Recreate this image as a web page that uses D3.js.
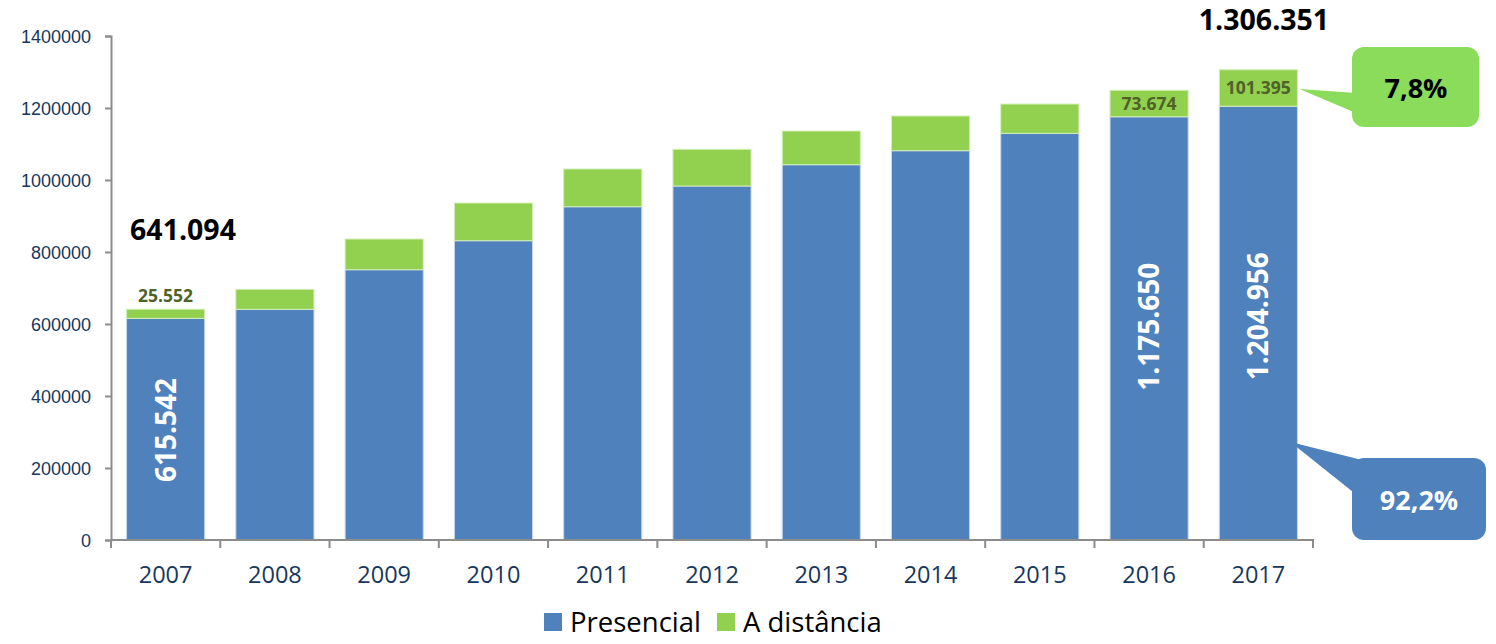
<!DOCTYPE html>
<html>
<head>
<meta charset="utf-8">
<script src="https://cdn.jsdelivr.net/npm/d3@7"></script>
<style>
  html, body { margin: 0; padding: 0; background: #fff; }
  svg { display: block; font-family: "Open Sans", Lato, sans-serif; }
</style>
</head>
<body>
<svg id="chart" width="1496" height="644"></svg>
<script>
// Matrículas por modalidade de ensino, 2007–2017
const years = ["2007","2008","2009","2010","2011","2012","2013","2014","2015","2016","2017"];
const presencial = [615542, 640800, 750800, 831400, 925800, 983300, 1042500, 1081400, 1129700, 1175650, 1204956];
const distancia  = [25552, 55600, 85300, 104700, 104800, 102000, 93600, 96400, 81400, 73674, 101395];
const yTicks = [0, 200000, 400000, 600000, 800000, 1000000, 1200000, 1400000];
const seriesNames = ["Presencial", "A distância"];
const labelledYears = ["2007", "2016", "2017"];   // bars with value labels
const totalYears = ["2007", "2017"];              // bars with total labels

const BLUE = "#4F81BD", GREEN = "#92D050", CALLOUT_GREEN = "#8ADC5A";
const AXIS_TEXT = "#17375E", AXIS_LINE = "#8C8C8C";

const ptBR = d3.formatLocale({ decimal: ",", thousands: ".", grouping: [3], currency: ["R$", ""] });
const fmtInt = ptBR.format(",d");
const fmtPct = ptBR.format(".1%");

const svg = d3.select("#chart");
const x = d3.scaleBand().domain(years).range([111, 1313]).paddingInner(0.285).paddingOuter(0.1425);
const y = d3.scaleLinear().domain([0, 1400000]).range([540, 36]);

const rows = years.map((yr, i) => ({ year: yr, p: presencial[i], d: distancia[i], t: presencial[i] + distancia[i] }));

// stacked bars
const g = svg.append("g");
g.selectAll("rect.pres").data(rows).join("rect")
  .attr("x", d => x(d.year)).attr("width", x.bandwidth())
  .attr("y", d => y(d.p)).attr("height", d => y(0) - y(d.p))
  .attr("fill", BLUE).attr("stroke", "#c9d7ea").attr("stroke-width", 1);
g.selectAll("rect.dist").data(rows).join("rect")
  .attr("x", d => x(d.year)).attr("width", x.bandwidth())
  .attr("y", d => y(d.t)).attr("height", d => y(d.p) - y(d.t))
  .attr("fill", GREEN).attr("stroke", "#d4eeba").attr("stroke-width", 1);

// y axis
const yAxis = svg.append("g").attr("transform", "translate(111,0)")
  .call(d3.axisLeft(y).tickValues(yTicks).tickSize(6).tickPadding(14).tickFormat(d3.format("d")));
yAxis.select(".domain").attr("stroke", AXIS_LINE).attr("stroke-width", 2);
yAxis.selectAll(".tick line").attr("stroke", AXIS_LINE).attr("stroke-width", 2);
yAxis.selectAll(".tick text").attr("fill", AXIS_TEXT).style("font-size", "18px").attr("dy", "0.35em");

// x axis with ticks between categories
const xg = svg.append("g").attr("transform", "translate(0,540)");
xg.append("line").attr("x1", 111).attr("x2", 1314).attr("stroke", AXIS_LINE).attr("stroke-width", 2);
const bounds = years.map(yr => x(yr) - x.step() * x.paddingInner() / 2).concat([1313]);
xg.selectAll("line.tk").data(bounds).join("line")
  .attr("x1", d => d).attr("x2", d => d).attr("y1", 0).attr("y2", 8)
  .attr("stroke", AXIS_LINE).attr("stroke-width", 2);
xg.selectAll("text").data(years).join("text")
  .attr("x", d => x(d) + x.bandwidth() / 2).attr("y", 43)
  .attr("text-anchor", "middle").attr("fill", AXIS_TEXT).style("font-size", "23.5px").text(d => d);

// vertical value labels inside the blue bars
const lab = rows.filter(d => labelledYears.includes(d.year));
svg.selectAll("text.pl").data(lab).join("text")
  .attr("transform", d => {
    const cx = x(d.year) + x.bandwidth() / 2;
    const cy = d.year === "2007" ? 430 : y(d.p) + 210;
    return `translate(${cx},${cy}) rotate(-90)`;
  })
  .attr("text-anchor", "middle").attr("dy", "0.36em")
  .attr("fill", "#fff").style("font-size", "28px").style("font-weight", "700")
  .text(d => fmtInt(d.p));

// labels inside the green segments
svg.selectAll("text.dl").data(lab).join("text")
  .attr("x", d => x(d.year) + x.bandwidth() / 2)
  .attr("y", d => d.year === "2007" ? y(d.t) - 14 : (y(d.t) + y(d.p)) / 2)
  .attr("dy", "0.36em").attr("text-anchor", "middle")
  .attr("fill", "#4F6228").style("font-size", "17.5px").style("font-weight", "700")
  .text(d => fmtInt(d.d));

// totals above selected bars
const tot = rows.filter(d => totalYears.includes(d.year));
svg.selectAll("text.tl").data(tot).join("text")
  .attr("x", d => d.year === "2007" ? 183 : 1264)
  .attr("y", d => y(d.t) - (d.year === "2007" ? 79 : 50))
  .attr("dy", "0.36em").attr("text-anchor", "middle")
  .attr("fill", "#000").style("font-size", "28.5px").style("font-weight", "700")
  .text(d => fmtInt(d.t));

// share callouts for the last year
const last = rows[rows.length - 1];
const lastX = x(last.year) + x.bandwidth();

// green callout
svg.append("path")
  .attr("d", `M${lastX + 2},${(y(last.t) + y(last.p)) / 2 + 1} L1356,93 L1356,113 Z`)
  .attr("fill", CALLOUT_GREEN);
svg.append("rect").attr("x", 1352).attr("y", 47).attr("width", 127).attr("height", 80)
  .attr("rx", 12).attr("fill", CALLOUT_GREEN);
svg.append("text").attr("x", 1416).attr("y", 88).attr("dy", "0.36em").attr("text-anchor", "middle")
  .attr("fill", "#000").style("font-size", "27px").style("font-weight", "700")
  .text(fmtPct(last.d / last.t));

// blue callout
svg.append("path")
  .attr("d", `M${lastX - 7},442 L1370,462 L1353,492 Z`)
  .attr("fill", BLUE);
svg.append("rect").attr("x", 1352).attr("y", 458).attr("width", 134).attr("height", 82)
  .attr("rx", 12).attr("fill", BLUE);
svg.append("text").attr("x", 1419).attr("y", 500).attr("dy", "0.36em").attr("text-anchor", "middle")
  .attr("fill", "#fff").style("font-size", "27px").style("font-weight", "700")
  .text(fmtPct(last.p / last.t));

// legend
const legend = svg.append("g");
const legendItems = [
  { name: seriesNames[0], color: BLUE, x: 544 },
  { name: seriesNames[1], color: GREEN, x: 717 }
];
legend.selectAll("rect").data(legendItems).join("rect")
  .attr("x", d => d.x).attr("y", 613).attr("width", 18).attr("height", 18).attr("fill", d => d.color);
legend.selectAll("text").data(legendItems).join("text")
  .attr("x", d => d.x + 26).attr("y", 622).attr("dy", "0.36em")
  .attr("fill", "#000").style("font-size", "27.5px").text(d => d.name);
</script>
</body>
</html>
